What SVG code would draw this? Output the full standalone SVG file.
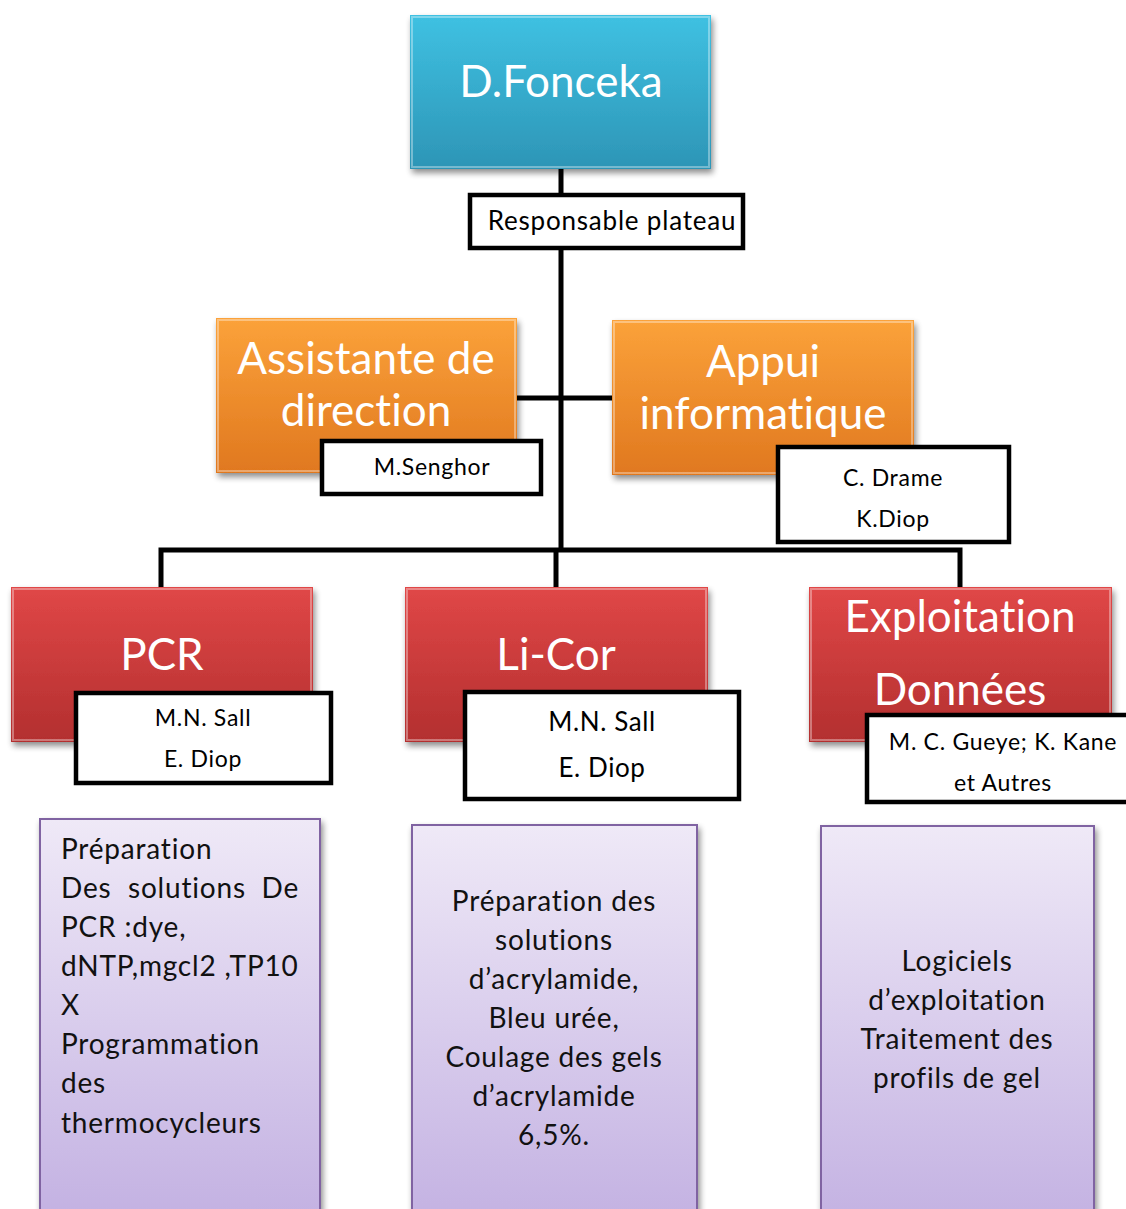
<svg xmlns="http://www.w3.org/2000/svg" width="1126" height="1209" viewBox="0 0 1126 1209">
<defs>
<linearGradient id="gBlue" x1="0" y1="0" x2="0" y2="1"><stop offset="0" stop-color="#3fc1e2"/><stop offset="1" stop-color="#2d95b6"/></linearGradient>
<linearGradient id="gOrange" x1="0" y1="0" x2="0" y2="1"><stop offset="0" stop-color="#fba23a"/><stop offset="1" stop-color="#e0781f"/></linearGradient>
<linearGradient id="gRed" x1="0" y1="0" x2="0" y2="1"><stop offset="0" stop-color="#e04747"/><stop offset="1" stop-color="#b32f2f"/></linearGradient>
<linearGradient id="gPurple" x1="0" y1="0" x2="0" y2="1"><stop offset="0" stop-color="#efe9f7"/><stop offset="1" stop-color="#c3b1e2"/></linearGradient>
<filter id="sh" x="-10%" y="-10%" width="125%" height="130%"><feGaussianBlur in="SourceAlpha" stdDeviation="3"/><feOffset dx="2" dy="4"/><feComponentTransfer><feFuncA type="linear" slope="0.45"/></feComponentTransfer><feMerge><feMergeNode/><feMergeNode in="SourceGraphic"/></feMerge></filter>
</defs>
<style>
text{font-variant-ligatures:none;font-feature-settings:"liga" 0}
.big{font-family:Lato,"Open Sans",sans-serif;fill:#fff;text-anchor:middle;font-size:44px}
.lbl{font-family:Lato,"Open Sans",sans-serif;fill:#000;text-anchor:middle;font-size:23px;letter-spacing:0.7px}
.lbl2{font-size:26px;letter-spacing:0.6px}
.body{font-family:Lato,"Open Sans",sans-serif;fill:#111;font-size:28px;letter-spacing:0.8px}
.mid{text-anchor:middle}
.wbox{fill:#fff;stroke:#000;stroke-width:4.5}
.pbox{fill:url(#gPurple);stroke:#8064a2;stroke-width:2}
.hi{fill:none;stroke:#fff;stroke-opacity:0.35;stroke-width:2}
.conn{fill:none;stroke:#000;stroke-width:5}
</style>
<rect width="1126" height="1209" fill="#fff"/>
<g id="connectors">
<line class="conn" x1="561" y1="165" x2="561" y2="552"/>
<line class="conn" x1="515" y1="398" x2="614" y2="398"/>
<polyline class="conn" points="161,590 161,550 960,550 960,590"/>
<line class="conn" x1="556" y1="550" x2="556" y2="590"/>
</g>
<g id="n-fonceka">
<rect x="410" y="15" width="301" height="154" fill="url(#gBlue)" filter="url(#sh)"/>
<rect class="hi" x="412" y="17" width="297" height="150"/>
<text class="big" x="561" y="97">D.Fonceka</text>
</g>
<g id="n-responsable">
<rect class="wbox" x="470" y="195" width="273" height="53"/>
<text class="lbl lbl2" x="612" y="230" style="letter-spacing:0.8px">Responsable plateau</text>
</g>
<g id="n-assistante">
<rect x="216" y="318" width="301" height="155" fill="url(#gOrange)" filter="url(#sh)"/>
<rect class="hi" x="218" y="320" width="297" height="151"/>
<text class="big" x="366" y="374">Assistante de</text>
<text class="big" x="366" y="426">direction</text>
</g>
<g id="n-senghor">
<rect class="wbox" x="322" y="441" width="219" height="53"/>
<text class="lbl" x="432" y="475">M.Senghor</text>
</g>
<g id="n-appui">
<rect x="612" y="320" width="302" height="155" fill="url(#gOrange)" filter="url(#sh)"/>
<rect class="hi" x="614" y="322" width="298" height="151"/>
<text class="big" x="763" y="377">Appui</text>
<text class="big" x="763" y="429">informatique</text>
</g>
<g id="n-drame">
<rect class="wbox" x="778" y="447" width="231" height="95"/>
<text class="lbl" x="893" y="486">C. Drame</text>
<text class="lbl" x="893" y="527">K.Diop</text>
</g>
<g id="n-pcr">
<rect x="11" y="587" width="302" height="155" fill="url(#gRed)" filter="url(#sh)"/>
<rect class="hi" x="13" y="589" width="298" height="151"/>
<text class="big" x="162" y="670">PCR</text>
</g>
<g id="n-pcr-names">
<rect class="wbox" x="76" y="693" width="255" height="90"/>
<text class="lbl" x="203" y="726">M.N. Sall</text>
<text class="lbl" x="203" y="767">E. Diop</text>
</g>
<g id="n-licor">
<rect x="405" y="587" width="303" height="155" fill="url(#gRed)" filter="url(#sh)"/>
<rect class="hi" x="407" y="589" width="299" height="151"/>
<text class="big" x="556" y="670">Li-Cor</text>
</g>
<g id="n-licor-names">
<rect class="wbox" x="465" y="692" width="274" height="107"/>
<text class="lbl lbl2" x="602" y="731">M.N. Sall</text>
<text class="lbl lbl2" x="602" y="777">E. Diop</text>
</g>
<g id="n-exploitation">
<rect x="809" y="587" width="303" height="155" fill="url(#gRed)" filter="url(#sh)"/>
<rect class="hi" x="811" y="589" width="299" height="151"/>
<text class="big" x="960" y="632">Exploitation</text>
<text class="big" x="960" y="705">Données</text>
</g>
<g id="n-exploitation-names">
<rect class="wbox" x="867" y="715" width="265" height="87"/>
<text class="lbl" x="1003" y="750">M. C. Gueye; K. Kane</text>
<text class="lbl" x="1003" y="791">et Autres</text>
</g>
<g id="n-pcr-tasks">
<rect class="pbox" x="40" y="819" width="280" height="400" filter="url(#sh)"/>
<text class="body" x="61" y="859">Préparation</text>
<text class="body" x="61" y="898">Des</text>
<text class="body" x="128" y="898">solutions</text>
<text class="body" x="299" y="898" text-anchor="end">De</text>
<text class="body" x="61" y="937">PCR :dye,</text>
<text class="body" x="61" y="976">dNTP,mgcl2 ,TP10</text>
<text class="body" x="61" y="1015">X</text>
<text class="body" x="61" y="1054">Programmation</text>
<text class="body" x="61" y="1093">des</text>
<text class="body" x="61" y="1133">thermocycleurs</text>
</g>
<g id="n-licor-tasks">
<rect class="pbox" x="412" y="825" width="285" height="400" filter="url(#sh)"/>
<text class="body mid" x="554" y="911">Préparation des</text>
<text class="body mid" x="554" y="950">solutions</text>
<text class="body mid" x="554" y="989">d’acrylamide,</text>
<text class="body mid" x="554" y="1028">Bleu urée,</text>
<text class="body mid" x="554" y="1067">Coulage des gels</text>
<text class="body mid" x="554" y="1106">d’acrylamide</text>
<text class="body mid" x="554" y="1145">6,5%.</text>
</g>
<g id="n-exploitation-tasks">
<rect class="pbox" x="821" y="826" width="273" height="400" filter="url(#sh)"/>
<text class="body mid" x="957" y="971">Logiciels</text>
<text class="body mid" x="957" y="1010">d’exploitation</text>
<text class="body mid" x="957" y="1049">Traitement des</text>
<text class="body mid" x="957" y="1088">profils de gel</text>
</g>
</svg>
